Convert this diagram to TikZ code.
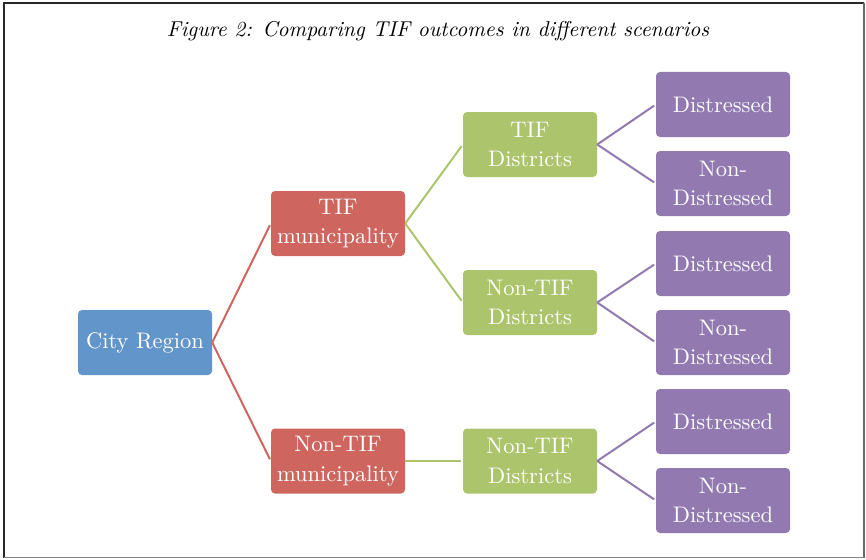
\documentclass[tikz,border=0pt]{standalone}
\usepackage{fontspec}
\setmainfont{lmroman10-regular.otf}[ItalicFont=lmroman10-italic.otf, BoldFont=lmroman10-bold.otf]
\usetikzlibrary{positioning}
\definecolor{cblue}{RGB}{98,150,202}
\definecolor{cred}{RGB}{206,102,95}
\definecolor{cgreen}{RGB}{172,197,108}
\definecolor{cpurple}{RGB}{146,122,176}
\definecolor{frameA}{RGB}{40,40,40}
\definecolor{frameB}{RGB}{130,130,130}
\tikzset{
  box/.style={rectangle, rounded corners=4pt, minimum width=134pt, minimum height=65pt,
    inner sep=0pt, text=white, align=center, font=\fontsize{22.5}{29.5}\selectfont},
  bluebox/.style={box, fill=cblue},
  redbox/.style={box, fill=cred},
  greenbox/.style={box, fill=cgreen},
  purplebox/.style={box, fill=cpurple},
  conn/.style={line width=2pt, shorten >=2pt},
}
\begin{document}
\begin{tikzpicture}[x=1pt,y=-1pt]
\useasboundingbox (0,0) rectangle (866,559);
% frame
\draw[frameA, line width=2pt] (3.5,558) -- (3.5,3) -- (864,3);
\draw[frameA!70!white, line width=1.5pt] (864,3) -- (864,557.5);
\draw[frameB, line width=1.5pt] (3.5,557.5) -- (864,557.5);
% title
\node[anchor=base, font=\fontsize{21.5}{25}\selectfont\itshape] (title) at (438,37) {Figure 2: Comparing TIF outcomes in different scenarios};
% nodes
\node[bluebox] (city) at (145,342.5) {City Region};
\node[redbox] (tifm) at (338,223.5) {TIF\\municipality};
\node[redbox] (ntifm) at (338,461) {Non-TIF\\municipality};
\node[greenbox] (tifd) at (530,144.5) {TIF\\Districts};
\node[greenbox] (ntifd1) at (530,302.5) {Non-TIF\\Districts};
\node[greenbox] (ntifd2) at (530,461) {Non-TIF\\Districts};
\node[purplebox] (p1) at (723,104.5) {Distressed};
\node[purplebox] (p2) at (723,183.5) {Non-\\Distressed};
\node[purplebox] (p3) at (723,263.5) {Distressed};
\node[purplebox] (p4) at (723,342.5) {Non-\\Distressed};
\node[purplebox] (p5) at (723,421.5) {Distressed};
\node[purplebox] (p6) at (723,500.5) {Non-\\Distressed};
% connectors
\draw[conn, cred] (city.east) -- (tifm.west);
\draw[conn, cred] (city.east) -- (ntifm.west);
\draw[conn, cgreen] (tifm.east) -- (tifd.west);
\draw[conn, cgreen] (tifm.east) -- (ntifd1.west);
\draw[conn, cgreen] (ntifm.east) -- (ntifd2.west);
\draw[conn, cpurple] (tifd.east) -- (p1.west);
\draw[conn, cpurple] (tifd.east) -- (p2.west);
\draw[conn, cpurple] (ntifd1.east) -- (p3.west);
\draw[conn, cpurple] (ntifd1.east) -- (p4.west);
\draw[conn, cpurple] (ntifd2.east) -- (p5.west);
\draw[conn, cpurple] (ntifd2.east) -- (p6.west);
\end{tikzpicture}
\end{document}
